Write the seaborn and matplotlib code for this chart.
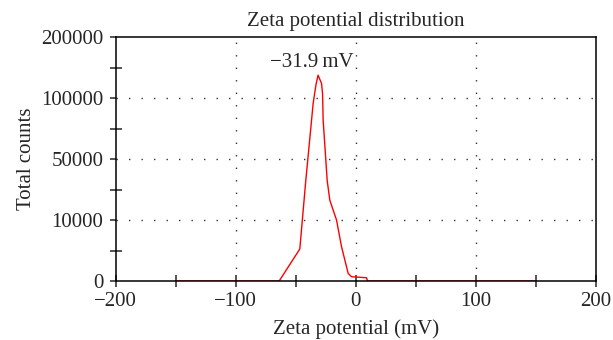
"""
Zeta potential distribution (total counts vs. zeta potential)
"""
import numpy as np
import pandas as pd
import matplotlib
matplotlib.use("Agg")
import matplotlib.pyplot as plt
from matplotlib.ticker import FixedLocator, NullFormatter
import seaborn as sns


zeta_mv = [-150, -63.9, -46.7, -41.7, -36.9, -35.6, -33.3, -31.5, -28.6, -27.75,
           -27.25, -23.9, -21.7, -16.1, -11.9, -6.4, -3.6, 8.9, 9.75, 150]
total_counts = [0, 0, 5250, 36000, 82000, 95500, 121000, 137500, 124000, 107500,
                82000, 36000, 23000, 10000, 5600, 1250, 700, 540, 0, 0]

# the y axis of the instrument plot is evenly spaced between these labels
y_tick_values = [0, 10000, 50000, 100000, 200000]
y_minor_values = [5000, 30000, 75000, 150000]
x_tick_values = [-200, -100, 0, 100, 200]
x_minor_values = [-150, -50, 50, 150]
peak_label = "\u221231.9\u2009mV"

y_pos = np.arange(len(y_tick_values), dtype=float)


def to_pos(v):
    return np.interp(v, y_tick_values, y_pos)


def from_pos(p):
    return np.interp(p, y_pos, y_tick_values)


df = pd.DataFrame({"zeta": zeta_mv, "counts": total_counts})

sns.set_style("ticks")
plt.rcParams["font.family"] = ["Liberation Serif", "DejaVu Serif"]
plt.rcParams["axes.unicode_minus"] = True

FS = 15

fig = plt.figure(figsize=(6.13, 3.40), dpi=100)
ax = fig.add_axes([0.189, 0.1735, 0.783, 0.7175])
ax.set_yscale("function", functions=(to_pos, from_pos))

sns.lineplot(data=df, x="zeta", y="counts", color="red", linewidth=1.0,
             sort=False, estimator=None, ax=ax)

ax.set_xlim(-200, 200)
ax.set_ylim(0, 200000)
ax.yaxis.set_major_locator(FixedLocator(y_tick_values))
ax.yaxis.set_minor_locator(FixedLocator(y_minor_values))
ax.yaxis.set_minor_formatter(NullFormatter())
ax.set_yticklabels([str(v) for v in y_tick_values])
ax.xaxis.set_major_locator(FixedLocator(x_tick_values))
ax.xaxis.set_minor_locator(FixedLocator(x_minor_values))
ax.set_xticklabels(["\u2212200", "\u2212100", "0", "100", "200"])

# sparse dotted grid only at inner ticks
for xv in [-100, 0, 100]:
    ax.axvline(xv, color="#333333", linewidth=1.0, linestyle=(0, (1, 8)), zorder=0)
for yv in [10000, 50000, 100000]:
    ax.axhline(yv, color="#333333", linewidth=1.0, linestyle=(0, (1, 8)), zorder=0)

for side in ["top", "right", "left", "bottom"]:
    ax.spines[side].set_visible(True)
    ax.spines[side].set_linewidth(1.1)
    ax.spines[side].set_color("black")

ax.tick_params(axis="y", which="major", direction="out", length=4, width=1.1,
               labelsize=FS, pad=5)
ax.tick_params(axis="y", which="minor", direction="inout", length=8, width=1.1)
ax.tick_params(axis="x", which="both", direction="inout", length=8, width=1.1,
               labelsize=FS, pad=4)

ax.text(-36.7, 158000, peak_label, ha="center", va="center", fontsize=FS)

ax.set_title("Zeta potential distribution", fontsize=FS, pad=8)
ax.set_xlabel("Zeta potential (mV)", fontsize=FS, labelpad=6)
ax.set_ylabel("Total counts", fontsize=FS, labelpad=4)

fig.savefig("out.png", dpi=100)
